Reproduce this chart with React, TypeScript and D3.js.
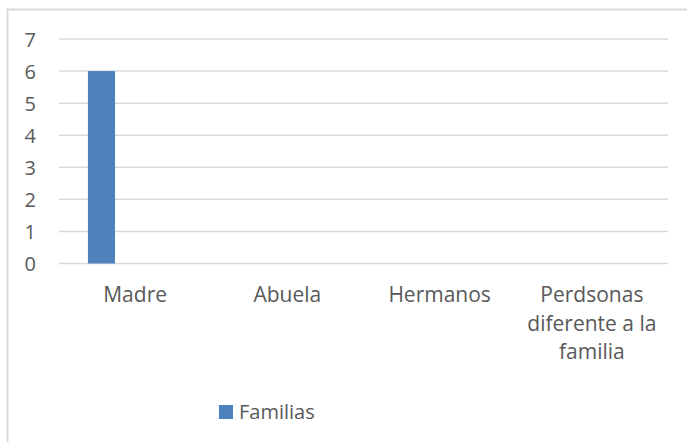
import { useEffect, useRef } from 'react';
import * as d3 from 'd3';

const categories = ['Madre', 'Abuela', 'Hermanos', 'Perdsonas diferente a la familia'];
const categoryLines = [['Madre'], ['Abuela'], ['Hermanos'], ['Perdsonas', 'diferente a la', 'familia']];
const familias = [6, 0, 0, 0];
const yTicks = [0, 1, 2, 3, 4, 5, 6, 7];
const seriesName = 'Familias';

export default function App() {
  const svgRef = useRef<SVGSVGElement>(null);

  useEffect(() => {
    if (!svgRef.current) return;
    d3.select(svgRef.current).selectAll('*').remove();

    const width = 687;
    const height = 442;
    const font = '"Open Sans", sans-serif';
    const textColor = '#595959';
    const gridColor = '#d9d9d9';

    const svg = d3.select(svgRef.current).attr('width', width).attr('height', height);

    // chart frame (right and bottom fall outside the picture)
    svg
      .append('path')
      .attr('d', `M7.5,${height} L7.5,9.5 L${width},9.5`)
      .attr('fill', 'none')
      .attr('stroke', gridColor)
      .attr('stroke-width', 2);

    const x = d3.scaleBand().domain(categories).range([59, 668]).padding(0);
    const y = d3.scaleLinear().domain([0, 7]).range([263.5, 39]);

    const g = svg.append('g');

    g.selectAll('.grid')
      .data(yTicks)
      .enter()
      .append('line')
      .attr('x1', 59)
      .attr('x2', 668)
      .attr('y1', (d) => y(d))
      .attr('y2', (d) => y(d))
      .attr('stroke', gridColor)
      .attr('stroke-width', 1.5);

    g.selectAll('.tick')
      .data(yTicks)
      .enter()
      .append('text')
      .attr('x', 36)
      .attr('y', (d) => y(d))
      .attr('text-anchor', 'end')
      .attr('dominant-baseline', 'central')
      .attr('fill', textColor)
      .attr('font-family', font)
      .attr('font-size', '20px')
      .text((d) => d);

    // bar sits left of the category centre (Excel cluster offset)
    const bw = x.bandwidth();
    g.selectAll('.bar')
      .data(familias.map((v, i) => ({ cat: categories[i], v })))
      .enter()
      .filter((d) => d.v > 0)
      .append('rect')
      .attr('x', (d) => x(d.cat)! + bw * 0.19)
      .attr('width', bw * 0.178)
      .attr('y', (d) => y(d.v))
      .attr('height', (d) => y(0) - y(d.v))
      .attr('fill', '#4f81bd');

    categories.forEach((c, i) => {
      const t = g
        .append('text')
        .attr('x', x(c)! + bw / 2)
        .attr('y', 302)
        .attr('text-anchor', 'middle')
        .attr('fill', textColor)
        .attr('font-family', font)
        .attr('font-size', '21px');
      categoryLines[i].forEach((line, j) => {
        t.append('tspan')
          .attr('x', x(c)! + bw / 2)
          .attr('dy', j === 0 ? 0 : 28.5)
          .text(line);
      });
    });

    // legend
    svg
      .append('rect')
      .attr('x', 219)
      .attr('y', 405)
      .attr('width', 14)
      .attr('height', 14)
      .attr('fill', '#4f81bd');
    svg
      .append('text')
      .attr('x', 239)
      .attr('y', 419)
      .attr('fill', textColor)
      .attr('font-family', font)
      .attr('font-size', '20px')
      .text(seriesName);
  }, []);

  return (
    <div style={{ position: 'absolute', left: 0, top: 0 }}>
      <svg ref={svgRef}></svg>
    </div>
  );
}
